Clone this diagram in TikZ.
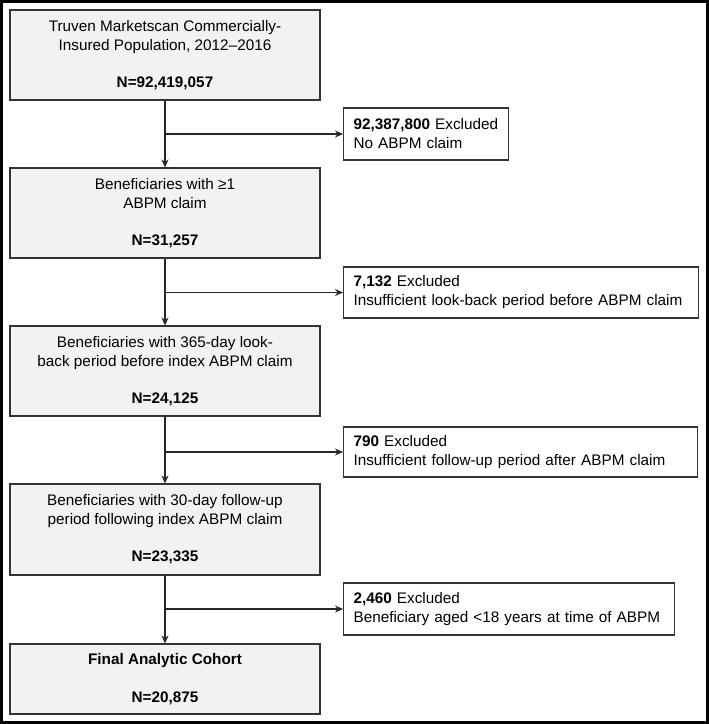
\documentclass[tikz,border=0pt]{standalone}
\usepackage{fontspec}
\setmainfont{Liberation Sans}
\usetikzlibrary{arrows.meta}
\begin{document}
\begin{tikzpicture}[x=1pt,y=-1pt,
  mainbox/.style={draw=black!80, line width=1.1pt, fill=black!5, minimum width=310pt,
    align=center, font=\fontsize{15.3}{18.7}\selectfont, inner sep=0pt},
  exclbox/.style={draw=black!80, line width=1.1pt, fill=white, align=left, anchor=west,
    font=\fontsize{15.3}{19}\selectfont, inner xsep=10pt, inner ysep=0pt},
  arr/.style={-{Stealth[length=8pt,width=7pt]}, line width=1.1pt, draw=black!85}]
\useasboundingbox (0,0) rectangle (709,724);
\draw[line width=3pt] (1.5,1.5) rectangle (707.5,722.5);

\node[mainbox, minimum height=90pt] (b1) at (165,55)
  {Truven Marketscan Commercially-\\Insured Population, 2012–2016\\[18.7pt]\textbf{N=92,419,057}};
\node[mainbox, minimum height=90pt] (b2) at (165,213)
  {Beneficiaries with ≥1\\ABPM claim\\[18.7pt]\textbf{N=31,257}};
\node[mainbox, minimum height=90pt] (b3) at (165,371)
  {Beneficiaries with 365-day look-\\back period before index ABPM claim\\[18.7pt]\textbf{N=24,125}};
\node[mainbox, minimum height=91pt] (b4) at (165,529.5)
  {Beneficiaries with 30-day follow-up\\period following index ABPM claim\\[18.7pt]\textbf{N=23,335}};
\node[mainbox, minimum height=70pt] (b5) at (165,679)
  {\textbf{Final Analytic Cohort}\\[18.7pt]\textbf{N=20,875}};

\node[exclbox, text width=145pt, minimum height=52pt] (e1) at (343,134)
  {\textbf{92,387,800} Excluded\\No ABPM claim};
\node[exclbox, text width=335pt, minimum height=51pt] (e2) at (343,292.5)
  {\textbf{7,132} Excluded\\Insufficient look-back period before ABPM claim};
\node[exclbox, text width=334pt, minimum height=50pt] (e3) at (343,452)
  {\textbf{790} Excluded\\Insufficient follow-up period after ABPM claim};
\node[exclbox, text width=311pt, minimum height=52pt] (e4) at (343,609)
  {\textbf{2,460} Excluded\\Beneficiary aged <18 years at time of ABPM};

\draw[arr] (b1.south) -- (b2.north);
\draw[arr] (b2.south) -- (b3.north);
\draw[arr] (b3.south) -- (b4.north);
\draw[arr] (b4.south) -- (b5.north);
\draw[arr] (b1.south |- e1.west) -- (e1.west);
\draw[arr] (b2.south |- e2.west) -- (e2.west);
\draw[arr] (b3.south |- e3.west) -- (e3.west);
\draw[arr] (b4.south |- e4.west) -- (e4.west);
\end{tikzpicture}
\end{document}
